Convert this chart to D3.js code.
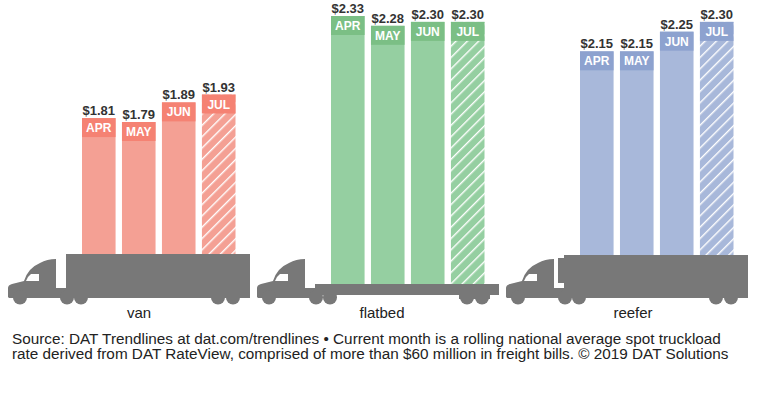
<!DOCTYPE html>
<html>
<head>
<meta charset="utf-8">
<script src="https://cdn.jsdelivr.net/npm/d3@7"></script>
<style>
  html, body { margin: 0; padding: 0; background: #fff; }
  text { font-family: "Liberation Sans", Arial, sans-serif; }
</style>
</head>
<body>
<div id="container"></div>
<script>
const months = ['APR', 'MAY', 'JUN', 'JUL'];
const equipment = ['van', 'flatbed', 'reefer'];
const vanRates = [1.81, 1.79, 1.89, 1.93];
const flatbedRates = [2.33, 2.28, 2.30, 2.30];
const reeferRates = [2.15, 2.15, 2.25, 2.30];
const rates = [vanRates, flatbedRates, reeferRates];

const barColors = ['#f4a094', '#95cfa1', '#a8b8da'];
const headColors = ['#f58273', '#7bbf85', '#8da2cf'];
const source = [
  'Source: DAT Trendlines at dat.com/trendlines \u2022 Current month is a rolling national average spot truckload',
  'rate derived from DAT RateView, comprised of more than $60 million in freight bills. \u00a9 2019 DAT Solutions'
];

const WIDTH = 770;
const HEIGHT = 400;
const TRUCK_GREY = '#787878';

// where each truck sits and how high its deck is
const panelX = [0, 249, 498];
const barLeft = [82, 331, 580];
const deckY = [254, 284, 255];
const labelX = [139, 382, 633];

let canvas = d3.select('#container').append('svg').attr('width', WIDTH).attr('height', HEIGHT);

let y = d3.scaleLinear().domain([1, 2.33]).range([277.1, 16]);
let x = d3.scaleBand().domain(months).range([0, 153.5]).paddingInner(0.16);
let money = d3.format('$.2f');

let defs = canvas.append('defs');
equipment.forEach((name, i) => {
  let pattern = defs.append('pattern')
    .attr('id', `hatch-${name}`)
    .attr('patternUnits', 'userSpaceOnUse')
    .attr('width', 8)
    .attr('height', 8)
    .attr('patternTransform', 'rotate(45)');
  pattern.append('rect').attr('width', 8).attr('height', 8).attr('fill', barColors[i]);
  pattern.append('rect').attr('width', 1.4).attr('height', 8).attr('fill', '#fff');
});

// bars go first so the trucks cover their feet
equipment.forEach((name, i) => {
  let group = canvas.append('g').attr('transform', `translate(${barLeft[i]},0)`);
  let bar = group.selectAll('.bar')
    .data(months.map((m, j) => ({ month: m, rate: rates[i][j] })))
    .join('g')
    .attr('class', 'bar')
    .attr('transform', (d) => `translate(${x(d.month)},0)`);

  bar.append('rect')
    .attr('y', (d) => y(d.rate))
    .attr('width', x.bandwidth())
    .attr('height', (d) => deckY[i] - y(d.rate))
    .attr('fill', (d) => (d.month === 'JUL' ? `url(#hatch-${name})` : barColors[i]));

  bar.append('rect')
    .attr('y', (d) => y(d.rate))
    .attr('width', x.bandwidth())
    .attr('height', 19)
    .attr('fill', headColors[i]);

  bar.append('text')
    .attr('x', x.bandwidth() / 2)
    .attr('y', (d) => y(d.rate) + 14)
    .attr('text-anchor', 'middle')
    .attr('font-size', 12)
    .attr('font-weight', 'bold')
    .attr('fill', '#fff')
    .text((d) => d.month);

  bar.append('text')
    .attr('x', x.bandwidth() / 2)
    .attr('y', (d) => y(d.rate) - 3)
    .attr('text-anchor', 'middle')
    .attr('font-size', 13)
    .attr('font-weight', 'bold')
    .attr('fill', '#333')
    .text((d) => money(d.rate));
});

const CAB = 'M8 297 L8 288 Q8 285 12 284 L24 281 Q28 268 40 263 Q47 259 56 259 L56 288 L66 288 L66 298 L9 298 Z';
const WINDOW = 'M26 281 L39 281 L39 274 L31 274 Q28 276 26 281 Z';
const drawTruck = (i) => {
  let truck = canvas.append('g').attr('transform', `translate(${panelX[i]},0)`).attr('fill', TRUCK_GREY);
  truck.append('path').attr('d', CAB);
  truck.append('path').attr('d', WINDOW).attr('fill', '#fff');
  truck.selectAll('circle')
    .data([20, 67, 81, 218, 233])
    .join('circle')
    .attr('cx', (d) => d)
    .attr('cy', 297.5)
    .attr('r', 7);
  return truck;
};

let van = drawTruck(0);
van.append('rect').attr('x', 66).attr('y', deckY[0]).attr('width', 184).attr('height', 44);

let flatbed = drawTruck(1);
flatbed.append('rect').attr('x', 66).attr('y', deckY[1]).attr('width', 184).attr('height', 11);
flatbed.append('rect').attr('x', 210).attr('y', deckY[1] + 9).attr('width', 31).attr('height', 6);

let reefer = drawTruck(2);
reefer.append('rect').attr('x', 66).attr('y', deckY[2]).attr('width', 184).attr('height', 43);
reefer.append('rect').attr('x', 60).attr('y', 258).attr('width', 8).attr('height', 25);

canvas.append('g')
  .selectAll('text')
  .data(equipment)
  .join('text')
  .attr('x', (d, i) => labelX[i])
  .attr('y', 318)
  .attr('text-anchor', 'middle')
  .attr('font-size', 15)
  .attr('fill', '#222')
  .text((d) => d);

canvas.append('g')
  .selectAll('text')
  .data(source)
  .join('text')
  .attr('x', 12)
  .attr('y', (d, i) => 344 + i * 14.6)
  .attr('font-size', 15.3)
  .attr('fill', '#222')
  .text((d) => d);
</script>
</body>
</html>
